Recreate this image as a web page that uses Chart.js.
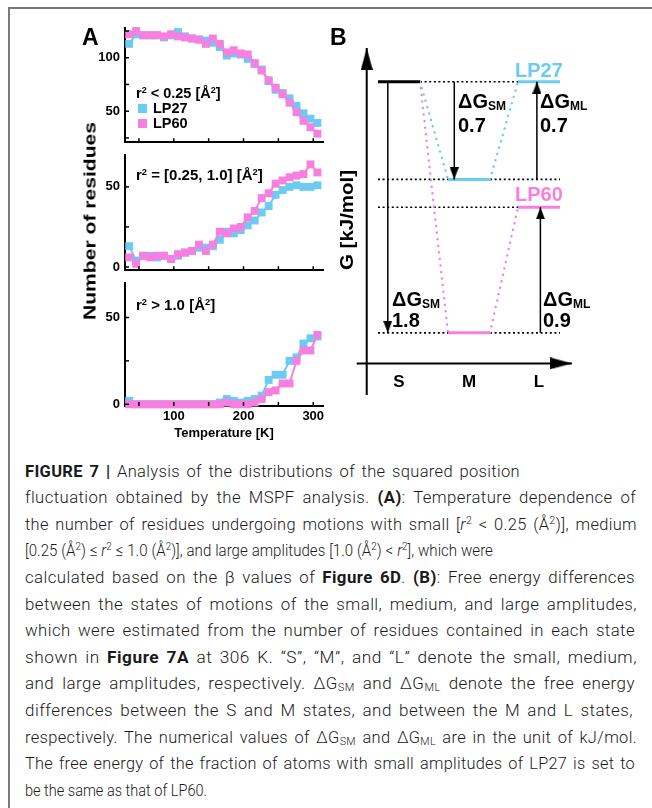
<!DOCTYPE html>
<html lang="en">
<head>
<meta charset="UTF-8">
<meta name="viewport" content="width=device-width,initial-scale=1">
<title>Figure 7</title>
<script src="https://cdn.jsdelivr.net/npm/chart.js@4.4.1/dist/chart.umd.min.js"></script>
<style>
  body { margin: 0; background: #fff; }
  #page { position: relative; width: 652px; height: 808px; overflow: hidden; font-family: "Liberation Sans", Arial, sans-serif; }
  #page canvas { position: absolute; }
  .frame { position: absolute; background: #7a7a7a; }
  .t { position: absolute; white-space: nowrap; font-weight: bold; line-height: 1; color: #000; z-index: 2; }
  .t sup { font-size: 0.62em; vertical-align: 0.55em; line-height: 0; }
  .t sub { font-size: 0.6em; vertical-align: -0.2em; line-height: 0; }
  .rot { position: absolute; white-space: nowrap; font-weight: bold; line-height: 1; color: #000; }
  .key { position: absolute; width: 9px; height: 9px; z-index: 2; }
  .ln { position: absolute; left: 25px; white-space: nowrap; font-family: Roboto, sans-serif; font-weight: 300;
        font-size: 17px; line-height: 1; color: #1a1a1a; transform-origin: 0 0; }
  .ln b { font-weight: 700; }
  .ln sup { font-size: 0.65em; vertical-align: 0.5em; line-height: 0; }
  .ln sub { font-size: 0.65em; vertical-align: -0.2em; line-height: 0; }
</style>
</head>
<body>
<div id="page">
  <div class="frame" style="left:8px;top:7px;width:644px;height:2px"></div>
  <div class="frame" style="left:8px;top:7px;width:2px;height:801px"></div>

  <canvas id="cSmall" width="270" height="140" style="left:60px;top:15px"></canvas>
  <canvas id="cMedium" width="270" height="141" style="left:60px;top:142px"></canvas>
  <canvas id="cLarge" width="270" height="180" style="left:60px;top:270px"></canvas>
  <canvas id="cEnergy" width="260" height="380" style="left:330px;top:20px"></canvas>

  <div class="rot" id="yTitle" style="left:90px;top:221px;font-size:17px" data-len="198">Number of residues</div>
  <div class="rot" id="gTitle" style="left:347px;top:220px;font-size:18px" data-len="100">G [kJ/mol]</div>

  <div class="key" style="left:138px;top:104px;background:#6ccbf3"></div>
  <div class="key" style="left:138px;top:119px;background:#f67fdf"></div>

  <div id="caption"></div>
</div>

<script>
  /* Panel A: temperatures and number of residues per amplitude class. */
  const temps = [36, 46, 56, 66, 76, 86, 96, 106, 116, 126, 136, 146, 156, 166,
                 176, 186, 196, 206, 216, 226, 236, 246, 256, 266, 276, 286, 296, 306]

  const lp27Small = [113, 122, 121, 121, 121, 119, 121, 124, 120, 118, 117, 116, 114, 110,
                     102, 104, 103, 99, 94, 89, 78, 70, 67, 62, 55, 48, 43, 39]
  const lp60Small = [122, 125, 121, 121, 121, 120, 122, 120, 119, 118, 117, 113, 118, 113,
                     105, 107, 104, 103, 95, 88, 79, 72, 66, 58, 49, 41, 35, 29]

  const lp27Medium = [13, 4, 7, 7, 6, 7, 5, 7, 9, 10, 12, 12, 13, 17,
                      22, 21, 23, 26, 29, 34, 38, 45, 48, 50, 51, 50, 50, 51]
  const lp60Medium = [6, 2, 7, 6, 7, 7, 5, 8, 9, 10, 14, 10, 14, 22,
                      21, 24, 25, 31, 35, 43, 46, 52, 54, 56, 57, 58, 64, 59]

  const lp27Large = [2, 0, 0, 0, 0, 0, 0, 0, 0, 0, 0, 0, 0, 1,
                     3, 2, 1, 2, 3, 5, 14, 17, 17, 25, 27, 35, 38, 39]
  const lp60Large = [0, 0, 0, 0, 0, 0, 0, 0, 0, 0, 0, 0, 0, 0,
                     1, 0, 0, 0, 1, 3, 7, 8, 12, 12, 25, 31, 31, 40]

  const tempTicks = [50, 100, 150, 200, 250, 300]
  const tempLabels = [100, 200, 300]

  /* Panel B: free energy of each state, relative to S. */
  const states = ['S', 'M', 'L']
  const lp27G = [0, -0.7, 0]
  const lp60G = [0, -1.8, -0.9]

  const BLUE = '#6ccbf3'
  const PINK = '#f67fdf'
  const FONT = 'Liberation Sans'

  /* Short tick marks drawn inside the plot area. */
  const innerTicks = {
    id: 'innerTicks',
    afterDraw(chart) {
      const { ctx, chartArea: a, scales } = chart
      ctx.save()
      ctx.strokeStyle = '#000'
      ctx.lineWidth = 1.5
      scales.x.ticks.forEach(t => {
        const p = scales.x.getPixelForValue(t.value)
        ctx.beginPath(); ctx.moveTo(p, a.bottom); ctx.lineTo(p, a.bottom - 4); ctx.stroke()
      })
      scales.y.ticks.forEach(t => {
        const p = scales.y.getPixelForValue(t.value)
        ctx.beginPath(); ctx.moveTo(a.left, p); ctx.lineTo(a.left + 4, p); ctx.stroke()
      })
      ctx.restore()
    }
  }

  function series(values) {
    return temps.map((t, i) => ({ x: t, y: values[i] }))
  }

  function makePanel(id, blue, pink, yMin, yMax, yTicks, yLabels, bottom) {
    return new Chart(document.getElementById(id), {
      type: 'line',
      data: {
        datasets: [
          { label: 'LP60', data: series(pink), borderColor: PINK, backgroundColor: PINK, order: 0 },
          { label: 'LP27', data: series(blue), borderColor: BLUE, backgroundColor: BLUE, order: 1 }
        ]
      },
      options: {
        responsive: false,
        animation: false,
        layout: { padding: { left: 0, right: 7, top: 10, bottom: 0 } },
        elements: {
          line: { borderWidth: 2, tension: 0 },
          point: { pointStyle: 'rect', radius: 5.6, borderWidth: 0 }
        },
        datasets: { line: { clip: false } },
        plugins: { legend: { display: false }, tooltip: { enabled: false } },
        scales: {
          x: {
            type: 'linear', min: 30, max: 314,
            afterBuildTicks: s => { s.ticks = tempTicks.map(v => ({ value: v })) },
            afterFit: s => { s.height = bottom ? 44 : 3 },
            grid: { display: false, drawTicks: false },
            border: { display: true, color: '#000', width: 2 },
            ticks: {
              display: bottom, autoSkip: false, maxRotation: 0, padding: 3, color: '#000',
              font: { family: FONT, weight: 'bold', size: 13 },
              callback: v => tempLabels.includes(v) ? v : ''
            },
            title: {
              display: bottom, text: 'Temperature [K]', color: '#000',
              font: { family: FONT, weight: 'bold', size: 13 }, padding: { top: 0, bottom: 9 }
            }
          },
          y: {
            min: yMin, max: yMax,
            afterBuildTicks: s => { s.ticks = yTicks.map(v => ({ value: v })) },
            afterFit: s => { s.width = 65 },
            grid: { display: false, drawTicks: false },
            border: { display: true, color: '#000', width: 2 },
            ticks: {
              autoSkip: false, padding: 5, color: '#000',
              font: { family: FONT, weight: 'bold', size: 13 },
              callback: v => yLabels.includes(v) ? v : ''
            }
          }
        }
      },
      plugins: [innerTicks]
    })
  }

  makePanel('cSmall', lp27Small, lp60Small, 21, 128, [25, 50, 75, 100, 125], [50, 100], false)
  makePanel('cMedium', lp27Medium, lp60Medium, -2, 70, [0, 25, 50], [0, 50], false)
  makePanel('cLarge', lp27Large, lp60Large, -1, 70, [0, 25, 50], [0, 50], true)

  /* Arrow heads: the tip sits at the centre of the image. */
  function arrowHead(w, h) {
    const c = document.createElement('canvas')
    c.width = w; c.height = 2 * h
    const g = c.getContext('2d')
    g.fillStyle = '#000'
    g.beginPath(); g.moveTo(w / 2, h); g.lineTo(w, 2 * h); g.lineTo(0, 2 * h); g.closePath(); g.fill()
    return c
  }
  const headSmall = arrowHead(9, 12)
  const headBig = arrowHead(12, 22)

  const HALF = 0.3               // half width of a level bar
  const pos = i => i + 1          // x position of a state

  function seg(x1, y1, x2, y2, style) {
    return Object.assign({ data: [{ x: x1, y: y1 }, { x: x2, y: y2 }], pointRadius: 0, clip: false }, style)
  }
  const solid = c => ({ borderColor: c, borderWidth: 3, borderCapStyle: 'butt', order: 2 })
  const guide = { borderColor: '#000', borderWidth: 1.6, borderDash: [2, 2.6], order: 6 }
  const dots = c => ({ borderColor: c, borderWidth: 2.4, borderDash: [0.1, 6.5], borderCapStyle: 'round', order: 5 })
  function arrow(x, from, to, head, style) {
    return Object.assign({
      data: [{ x: x, y: from }, { x: x, y: to }],
      borderColor: '#000', borderWidth: 1.5, clip: false, order: 1,
      pointRadius: [0, 1], pointStyle: head, pointRotation: 0
    }, style)
  }

  const energySets = []
  // guides (dotted black)
  ;[lp27G, lp60G].forEach(G => {
    energySets.push(seg(pos(0) - HALF, G[1], pos(1) - HALF, G[1], guide))
    energySets.push(seg(pos(1) + HALF, G[1], pos(2) + HALF, G[1], guide))
    energySets.push(seg(pos(0) + HALF, G[2], pos(2) - HALF, G[2], guide))
    if (G[2] !== G[0]) energySets.push(seg(pos(0) - HALF, G[2], pos(0) + HALF, G[2], guide))
  })
  // connectors (dotted colour)
  ;[[lp27G, BLUE], [lp60G, PINK]].forEach(([G, c]) => {
    energySets.push(seg(pos(0) + HALF, G[0], pos(1) - HALF, G[1], dots(c)))
    energySets.push(seg(pos(1) + HALF, G[1], pos(2) - HALF, G[2], dots(c)))
  })
  // levels
  energySets.push(seg(pos(0) - HALF, lp27G[0], pos(0) + HALF, lp27G[0], solid('#000')))
  ;[[lp27G, BLUE], [lp60G, PINK]].forEach(([G, c]) => {
    energySets.push(seg(pos(1) - HALF, G[1], pos(1) + HALF, G[1], solid(c)))
    energySets.push(seg(pos(2) - HALF, G[2], pos(2) + HALF, G[2], solid(c)))
  })
  // free energy difference arrows
  energySets.push(arrow(0.84, lp60G[0], lp60G[1], headSmall, { pointRotation: 180 }))
  energySets.push(arrow(1.79, lp27G[0], lp27G[1], headSmall, { pointRotation: 180 }))
  energySets.push(arrow(2.97, lp27G[1], lp27G[2], headSmall))
  energySets.push(arrow(3.02, lp60G[1], lp60G[2], headSmall))
  // axes
  energySets.push(arrow(0.539, -2.246, 0.242, headBig, { borderWidth: 2 }))
  energySets.push(Object.assign(arrow(0, -2.019, -2.019, headBig, { borderWidth: 2, pointRotation: 90 }),
    { data: [{ x: 0.396, y: -2.019 }, { x: 3.47, y: -2.019 }] }))

  new Chart(document.getElementById('cEnergy'), {
    type: 'line',
    data: { datasets: energySets },
    options: {
      responsive: false,
      animation: false,
      layout: { padding: { left: 20, right: 10, top: 20, bottom: 0 } },
      elements: { line: { tension: 0 } },
      plugins: { legend: { display: false }, tooltip: { enabled: false } },
      scales: {
        x: {
          type: 'linear', min: 0.3, max: 3.586,
          afterBuildTicks: s => { s.ticks = states.map((n, i) => ({ value: pos(i) })) },
          afterFit: s => { s.height = 32 },
          grid: { display: false, drawTicks: false },
          border: { display: false },
          ticks: {
            autoSkip: false, maxRotation: 0, padding: 4, color: '#000',
            font: { family: FONT, weight: 'bold', size: 17 },
            callback: v => states[v - 1]
          }
        },
        y: { display: false, min: -2.052, max: 0.299 }
      }
    }
  })

  /* Text labels. */
  const page = document.getElementById('page')
  const diff = (a, b) => (a - b).toFixed(1)
  const labels = [
    ['A', 82, 45, 23],
    ['B', 330, 45, 23],
    ['r<sup>2</sup> &lt; 0.25 [Å<sup>2</sup>]', 136, 98, 14.5],
    ['LP27', 153, 113.5, 14.5],
    ['LP60', 153, 128.5, 14.5],
    ['r<sup>2</sup> = [0.25, 1.0] [Å<sup>2</sup>]', 136, 180, 15],
    ['r<sup>2</sup> &gt; 1.0 [Å<sup>2</sup>]', 136, 310, 15],
    ['LP27', 515, 77, 20, BLUE],
    ['LP60', 515, 201, 20, PINK],
    ['ΔG<sub>SM</sub>', 458, 108, 20],
    [diff(lp27G[0], lp27G[1]), 458, 132, 20],
    ['ΔG<sub>ML</sub>', 540, 108, 20],
    [diff(lp27G[2], lp27G[1]), 540, 132, 20],
    ['ΔG<sub>SM</sub>', 392, 306, 20],
    [diff(lp60G[0], lp60G[1]), 392, 327, 20],
    ['ΔG<sub>ML</sub>', 543, 306, 20],
    [diff(lp60G[2], lp60G[1]), 543, 327, 20]
  ]
  labels.forEach(([html, x, base, size, color]) => {
    const d = document.createElement('div')
    d.className = 't'
    d.innerHTML = html
    d.style.left = x + 'px'
    d.style.top = (base - 0.847 * size) + 'px'
    d.style.fontSize = size + 'px'
    if (color) d.style.color = color
    page.appendChild(d)
  })

  /* Caption, one line per row; right edges taken from the original. */
  const captionLines = [
    ['<b>FIGURE 7 |</b> Analysis of the distributions of the squared position', 520],
    ['fluctuation obtained by the MSPF analysis. <b>(A)</b>: Temperature dependence of', 636],
    ['the number of residues undergoing motions with small [<i>r</i><sup>2</sup> &lt; 0.25 (Å<sup>2</sup>)], medium', 637],
    ['[0.25 (Å<sup>2</sup>) ≤ <i>r</i><sup>2</sup> ≤ 1.0 (Å<sup>2</sup>)], and large amplitudes [1.0 (Å<sup>2</sup>) &lt; <i>r</i><sup>2</sup>], which were', 493],
    ['calculated based on the β values of <b>Figure 6D</b>. <b>(B)</b>: Free energy differences', 635],
    ['between the states of motions of the small, medium, and large amplitudes,', 637],
    ['which were estimated from the number of residues contained in each state', 635],
    ['shown in <b>Figure 7A</b> at 306 K. “S”, “M”, and “L” denote the small, medium,', 637],
    ['and large amplitudes, respectively. ΔG<sub>SM</sub> and ΔG<sub>ML</sub> denote the free energy', 635],
    ['differences between the S and M states, and between the M and L states,', 633],
    ['respectively. The numerical values of ΔG<sub>SM</sub> and ΔG<sub>ML</sub> are in the unit of kJ/mol.', 637],
    ['The free energy of the fraction of atoms with small amplitudes of LP27 is set to', 635],
    ['be the same as that of LP60.', 207]
  ]
  const caption = document.getElementById('caption')
  const lineEls = captionLines.map(([html, right], i) => {
    const d = document.createElement('div')
    d.className = 'ln'
    d.innerHTML = html
    d.style.top = (477 + i * 26.6 - 0.842 * 17) + 'px'
    caption.appendChild(d)
    return [d, right - 25]
  })

  /* The original face is narrower: squeeze every line by the same base
     amount, then share the rest of a full line between glyph width,
     letter spacing and word spacing (as justified text does). */
  function fit() {
    const nat = lineEls.map(([d]) => {
      d.style.transform = 'none'
      d.style.wordSpacing = '0px'
      d.style.letterSpacing = '0px'
      return d.getBoundingClientRect().width
    })
    const k = (lineEls[3][1] / nat[3] + lineEls[12][1] / nat[12]) / 2
    lineEls.forEach(([d, w], i) => {
      const r = w / nat[i]
      if (r <= k) {
        d.style.transform = 'scaleX(' + r + ')'
        return
      }
      const s = (k + r) / 2
      const rest = w / s - nat[i]
      const txt = d.textContent
      const spaces = (txt.match(/ /g) || []).length
      d.style.letterSpacing = (rest * 0.5 / txt.length) + 'px'
      d.style.wordSpacing = (rest * 0.5 / spaces) + 'px'
      d.style.transform = 'scaleX(' + s + ')'
    })
    document.querySelectorAll('.rot').forEach(d => {
      d.style.transform = 'none'
      const s = d.dataset.len / d.getBoundingClientRect().width
      d.style.transform = 'translate(-50%,-50%) rotate(-90deg) scaleX(' + s + ')'
    })
  }
  fit()
  if (document.fonts) document.fonts.ready.then(fit)
</script>
</body>
</html>
